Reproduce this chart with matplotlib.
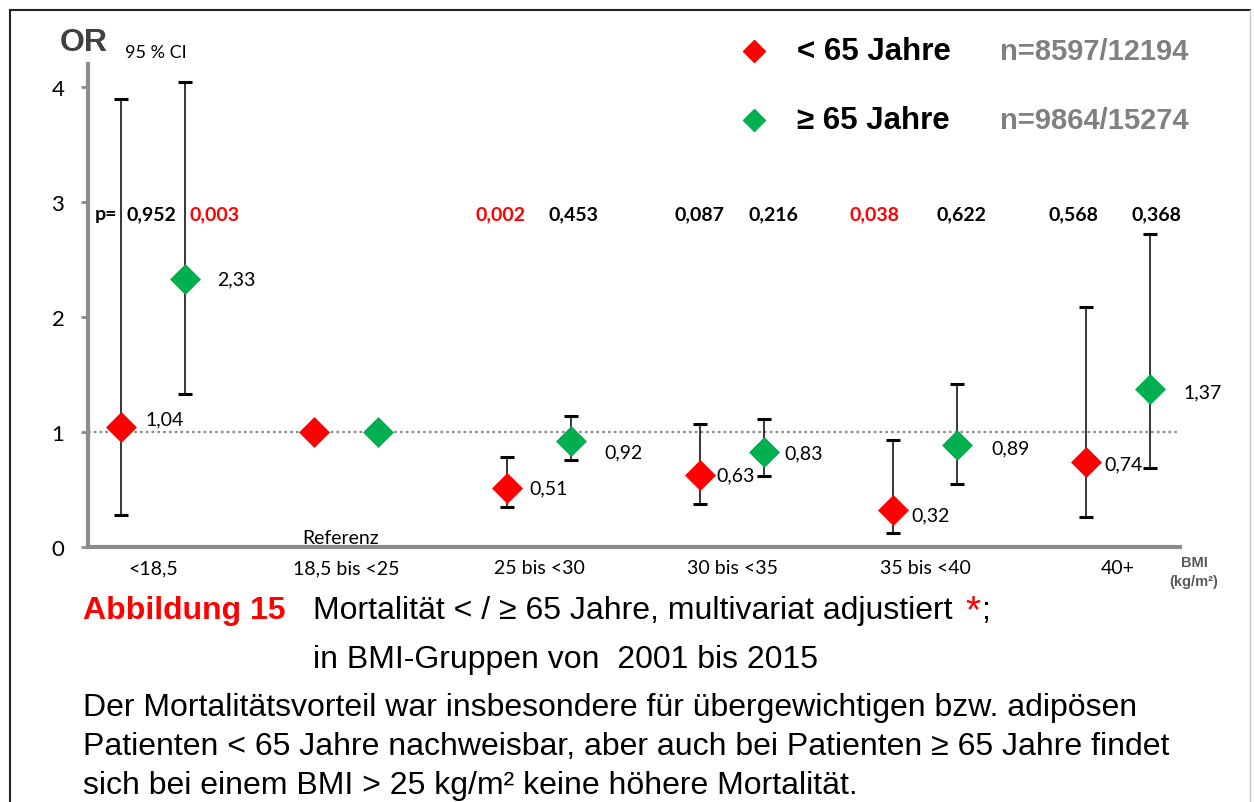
import numpy as np
import matplotlib
matplotlib.use("Agg")
import matplotlib.pyplot as plt
from matplotlib.lines import Line2D

W, H = 1254, 803
CAL = "Lato"              # stand-in for Calibri
ARI = "Liberation Sans"   # stand-in for Arial
RED = "#ff0000"
GREEN = "#00b050"

# --- data -------------------------------------------------------------
categories = ["<18,5", "18,5 bis <25", "25 bis <30", "30 bis <35", "35 bis <40", "40+"]

or_young = [1.04, 1.00, 0.51, 0.63, 0.32, 0.74]
lo_young = [0.28, np.nan, 0.35, 0.37, 0.12, 0.26]
hi_young = [3.90, np.nan, 0.78, 1.07, 0.93, 2.09]

or_old = [2.33, 1.00, 0.92, 0.83, 0.89, 1.37]
lo_old = [1.33, np.nan, 0.76, 0.62, 0.55, 0.69]
hi_old = [4.04, np.nan, 1.14, 1.11, 1.42, 2.72]

p_young = [0.952, np.nan, 0.002, 0.087, 0.038, 0.568]
p_old = [0.003, np.nan, 0.453, 0.216, 0.622, 0.368]

n_young = "n=8597/12194"
n_old = "n=9864/15274"

# label placement tweaks (pixels)
lab_off_young = [(24, 9), None, (22, 0), (16, 0), (18, -5), (18, -2)]
lab_off_old = [(32, 0), None, (33, -11), (20, -1), (34, -3), (33, -2)]
p_off_young = [30, None, -7, -1, -19, -13]
p_off_old = [29, None, 2, 9, 4, 6]


def fx(px):
    return px / W


def fy(py):
    return 1 - py / H


def de(v, fmt):
    return format(v, fmt).replace(".", ",")


fig = plt.figure(figsize=(W / 100, H / 100), dpi=100)
ax = fig.add_axes([fx(88), fy(548), (1180 - 88) / W, (548 - 65) / H])

x = np.arange(len(categories))
shift = 0.166
series = [
    (x - shift, or_young, lo_young, hi_young, p_young, lab_off_young, p_off_young, RED),
    (x + shift, or_old, lo_old, hi_old, p_old, lab_off_old, p_off_old, GREEN),
]

ax.axhline(1, color="#8c8c8c", lw=1.6, ls=(0, (1.2, 1.4)), zorder=1)

for xs, ors, lo, hi, ps, loff, poff, col in series:
    ors = np.array(ors)
    lo = np.array(lo)
    hi = np.array(hi)
    m = ~np.isnan(lo)
    ax.errorbar(xs[m], ors[m], yerr=[ors[m] - lo[m], hi[m] - ors[m]], fmt="none",
                ecolor="black", elinewidth=1.1, capsize=5, capthick=2.2, zorder=2)
    ax.plot(xs, ors, ls="none", marker="D", ms=15, color=col, mec=col, mew=0.5, zorder=3)
    for i in range(len(xs)):
        if loff[i] is not None:
            ax.annotate(de(ors[i], ".2f"), (xs[i], ors[i]), xytext=loff[i],
                        textcoords="offset pixels", ha="left", va="center",
                        fontsize=14, family=CAL)
        if poff[i] is not None:
            pc = RED if ps[i] < 0.05 else "black"
            ax.annotate(de(ps[i], ".3f"), (xs[i], 2.896), xytext=(poff[i], 0),
                        textcoords="offset pixels", ha="center", va="center",
                        fontsize=14, family=CAL, weight="bold", color=pc)

ax.annotate("Referenz", (1, 0), xytext=(-5, 1), textcoords="offset pixels",
            ha="center", va="bottom", fontsize=14, family=CAL)

ax.set_xlim(-0.337, 5.321)
ax.set_ylim(0, 4.2)
ax.set_yticks([0, 1, 2, 3, 4])
ax.set_xticks(x)
ax.set_xticklabels(categories, family=CAL, fontsize=14)
for lab in ax.get_yticklabels():
    lab.set_family(CAL)
ax.tick_params(axis="y", direction="out", length=5, width=2, color="#8c8c8c",
               labelsize=16, pad=12)
ax.tick_params(axis="x", length=0, pad=9)
for s in ["top", "right"]:
    ax.spines[s].set_visible(False)
for s in ["left", "bottom"]:
    ax.spines[s].set_color("#8c8c8c")
    ax.spines[s].set_linewidth(3)
ax.patch.set_alpha(0)

# --- texts around the plot ----------------------------------------------
fig.text(fx(60), fy(43), "OR", fontsize=23, weight="bold", color="#404040",
         family=ARI, va="center")
fig.text(fx(125), fy(53), "95 % CI", fontsize=13, family=CAL, va="center")
fig.text(fx(95), fy(215), "p=", fontsize=14, family=CAL, weight="bold", va="center")
fig.text(fx(1194), fy(563), "BMI", fontsize=10.5, family=ARI, weight="bold",
         color="#595959", ha="center", va="center")
fig.text(fx(1194), fy(582), "(kg/m²)", fontsize=10.5, family=ARI, weight="bold",
         color="#595959", ha="center", va="center")

# legend
for yy, col, lab, n in [(52, RED, "< 65 Jahre", n_young), (121, GREEN, "≥ 65 Jahre", n_old)]:
    fig.add_artist(Line2D([fx(754)], [fy(yy)], marker="D", ms=11, color=col,
                          ls="none", transform=fig.transFigure))
    fig.text(fx(797), fy(yy), lab, fontsize=22.5, weight="bold", family=ARI, va="center")
    fig.text(fx(1000), fy(yy), n, fontsize=21, weight="bold", family=ARI,
             color="#808080", va="center")

# caption
fig.text(fx(83), fy(619), "Abbildung 15", fontsize=23, weight="bold", color=RED,
         family=ARI, va="baseline")
t1 = fig.text(fx(313), fy(619), "Mortalität < / ≥ 65 Jahre, multivariat adjustiert",
              fontsize=23, family=ARI, va="baseline")
fig.canvas.draw()
x_end = t1.get_window_extent().x1
fig.text((x_end + 13) / W, fy(622), "*", fontsize=28, color=RED, family=ARI, va="baseline")
fig.text((x_end + 29) / W, fy(619), ";", fontsize=23, family=ARI, va="baseline")
fig.text(fx(313), fy(668), "in BMI-Gruppen von  2001 bis 2015", fontsize=23,
         family=ARI, va="baseline")
body = ["Der Mortalitätsvorteil war insbesondere für übergewichtigen bzw. adipösen",
        "Patienten < 65 Jahre nachweisbar, aber auch bei Patienten ≥ 65 Jahre findet",
        "sich bei einem BMI > 25 kg/m² keine höhere Mortalität."]
for k, line in enumerate(body):
    fig.text(fx(83), fy(716 + 39 * k), line, fontsize=23, family=ARI, va="baseline")

# frame
fig.add_artist(Line2D([fx(10), fx(10)], [0, fy(11)], color="#222222", lw=1.5,
                      transform=fig.transFigure))
fig.add_artist(Line2D([fx(10), fx(1250)], [fy(11), fy(11)], color="#222222", lw=1.5,
                      transform=fig.transFigure))
fig.add_artist(Line2D([fx(1250), fx(1250)], [0, fy(11)], color="#c8c8c8", lw=1,
                      transform=fig.transFigure))

fig.savefig("out.png", dpi=100)
